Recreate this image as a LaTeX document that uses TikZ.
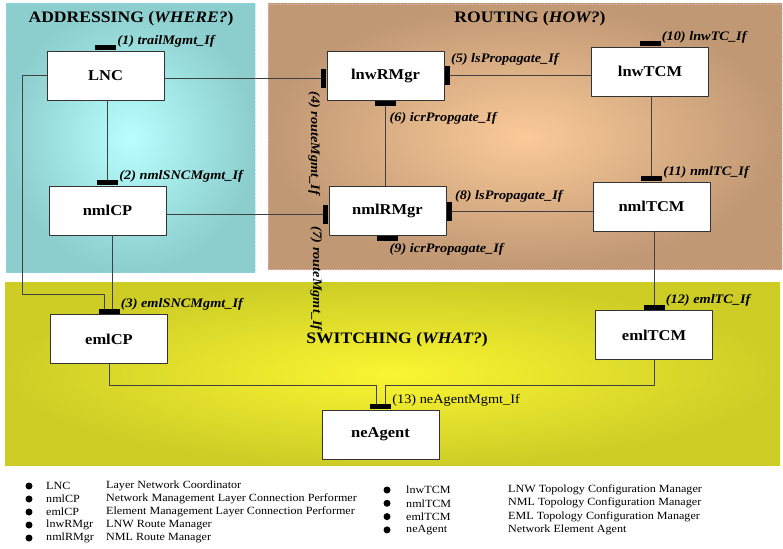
\documentclass[tikz,border=0pt]{standalone}
\usepackage{fontspec}
\setmainfont{Liberation Serif}[FakeStretch=1.1]
\usetikzlibrary{positioning}
\definecolor{addrin}{RGB}{185,255,255}
\definecolor{addrout}{RGB}{140,205,205}
\definecolor{routin}{RGB}{250,202,152}
\definecolor{routout}{RGB}{192,152,116}
\definecolor{swin}{RGB}{250,245,50}
\definecolor{swout}{RGB}{205,205,38}
\begin{document}
\begin{tikzpicture}[x=1pt,y=-1pt, line join=round, line cap=round,
    box/.style={draw=black!80, fill=white, line width=0.8pt, minimum width=117pt, minimum height=49pt, inner sep=0pt, font=\fontsize{15}{15}\selectfont\bfseries},
    porth/.style={fill=black, minimum width=21pt, minimum height=5pt, inner sep=0pt},
    portv/.style={fill=black, minimum width=5pt, minimum height=19pt, inner sep=0pt},
    iflabel/.style={font=\fontsize{13}{13}\selectfont\bfseries\itshape, inner sep=1pt},
    title/.style={font=\fontsize{16}{16}\selectfont\bfseries},
    wire/.style={draw=black!75, line width=0.8pt},
    legdot/.style={circle, fill=black, minimum size=7pt, inner sep=0pt},
    legtext/.style={font=\fontsize{11}{12}\selectfont, anchor=west, inner sep=0pt}]
    \useasboundingbox (0,0) rectangle (783,548);
    % layers
    \shade[inner color=addrin, outer color=addrout] (6,4) rectangle (255,272);
    \draw[cyan!45, dotted] (6,4) rectangle (255,272);
    \shade[inner color=routin, outer color=routout] (268,4) rectangle (782,269);
    \draw[magenta!25, dotted] (268,4) rectangle (782,269);
    \shade[inner color=swin, outer color=swout] (5,282) rectangle (780,465);
    \node[title] (taddr) at (131,19) {ADDRESSING (\textit{WHERE?})};
    \node[title] (trout) at (530,19) {ROUTING (\textit{HOW?})};
    \node[title] (tsw) at (397,340) {SWITCHING (\textit{WHAT?})};
    % components
    \node[box] (lnc) at (105.5,75.5) {LNC};
    \node[box] (nmlcp) at (107.5,210.5) {nmlCP};
    \node[box] (emlcp) at (109,339) {emlCP};
    \node[box] (lnwrmgr) at (385.5,75.5) {lnwRMgr};
    \node[box] (nmlrmgr) at (387.5,211) {nmlRMgr};
    \node[box] (lnwtcm) at (650,71.5) {lnwTCM};
    \node[box] (nmltcm) at (651.5,206.5) {nmlTCM};
    \node[box] (emltcm) at (654,335) {emlTCM};
    \node[box] (neagent) at (380.5,434.5) {neAgent};
    % interfaces
    \node[porth, anchor=south] (p1) at (lnc.north) {};
    \node[porth, anchor=south] (p2) at (nmlcp.north) {};
    \node[porth, anchor=south] (p3) at (emlcp.north) {};
    \node[portv, anchor=east] (p4) at ([yshift=-3pt]lnwrmgr.west) {};
    \node[portv, anchor=west] (p5) at (lnwrmgr.east) {};
    \node[porth, anchor=north] (p6) at (lnwrmgr.south) {};
    \node[portv, anchor=east] (p7) at ([yshift=-3pt]nmlrmgr.west) {};
    \node[portv, anchor=west] (p8) at (nmlrmgr.east) {};
    \node[porth, anchor=north] (p9) at (nmlrmgr.south) {};
    \node[porth, anchor=south] (p10) at (lnwtcm.north) {};
    \node[porth, anchor=south] (p11) at (nmltcm.north) {};
    \node[porth, anchor=south] (p12) at (emltcm.north) {};
    \node[porth, anchor=south] (p13) at (neagent.north) {};
    % connections
    \coordinate (bendA) at (22,294);
    \draw[wire] (p4.west) -- (p4.west -| lnc.east);
    \draw[wire] (p2.north) -- (p2.north |- lnc.south);
    \draw[wire] (lnc.west) -| (bendA) -| ([xshift=-5pt]p3.north);
    \draw[wire] ([xshift=3pt]p3.north) -- ([xshift=3pt]p3.north |- nmlcp.south);
    \draw[wire] (p7.west) -- (p7.west -| nmlcp.east);
    \draw[wire] (p5.east) -- (p5.east -| lnwtcm.west);
    \draw[wire] (p6.south) -- (p6.south |- nmlrmgr.north);
    \draw[wire] (p8.east) -- (p8.east -| nmltcm.west);
    \draw[wire] (p11.north) -- (p11.north |- lnwtcm.south);
    \draw[wire] (p12.north) -- (p12.north |- nmltcm.south);
    \draw[wire] (emlcp.south) -- ++(0,21) -| ([xshift=-4pt]p13.north);
    \draw[wire] (emltcm.south) -- ++(0,25) -| ([xshift=5pt]p13.north);
    % interface names
    \node[iflabel, anchor=base west] (l1) at ([yshift=1pt]p1.north east) {(1) trailMgmt\_If};
    \node[iflabel, anchor=base west] (l2) at ([yshift=1pt]p2.north east) {(2) nmlSNCMgmt\_If};
    \node[iflabel, anchor=base west] (l3) at ([yshift=1pt]p3.north east) {(3) emlSNCMgmt\_If};
    \node[iflabel, rotate=-90, anchor=west] (l4) at ([xshift=-7pt,yshift=-2pt]p4.south west) {(4) routeMgmt\_If};
    \node[iflabel, anchor=base west] (l5) at ([yshift=3pt]p5.north east) {(5) lsPropagate\_If};
    \node[iflabel, anchor=north west] (l6) at ([xshift=3pt,yshift=-5pt]p6.south) {(6) icrPropgate\_If};
    \node[iflabel, rotate=-90, anchor=west] (l7) at ([xshift=-7pt,yshift=-2pt]p7.south west) {(7) routeMgmt\_If};
    \node[iflabel, anchor=base west] (l8) at ([xshift=2pt,yshift=2pt]p8.north east) {(8) lsPropagate\_If};
    \node[iflabel, anchor=north west] (l9) at ([xshift=1pt,yshift=-1pt]p9.south) {(9) icrPropagate\_If};
    \node[iflabel, anchor=base west] (l10) at ([yshift=1pt]p10.north east) {(10) lnwTC\_If};
    \node[iflabel, anchor=base west] (l11) at ([yshift=1pt]p11.north east) {(11) nmlTC\_If};
    \node[iflabel, anchor=base west] (l12) at ([yshift=1pt]p12.north east) {(12) emlTC\_If};
    \node[font=\fontsize{13}{13}\selectfont, inner sep=1pt, anchor=base west] (l13) at ([yshift=1pt]p13.north east) {(13) neAgentMgmt\_If};
    % legend
    \foreach \n/\d [count=\i] in {LNC/Layer Network Coordinator, nmlCP/Network Management Layer Connection Performer, emlCP/Element Management Layer Connection Performer, lnwRMgr/LNW Route Manager, nmlRMgr/NML Route Manager}{
        \node[legdot] (ld\i) at (29,{473+13*\i}) {};
        \node[legtext] (ln\i) at (46,{473+13*\i}) {\n};
        \node[legtext] (lt\i) at (106,{473+13*\i}) {\d};
    }
    \foreach \n/\d [count=\i] in {lnwTCM/LNW Topology Configuration Manager, nmlTCM/NML Topology Configuration Manager, emlTCM/EML Topology Configuration Manager, neAgent/Network Element Agent}{
        \node[legdot] (rd\i) at (387,{476.7+13.3*\i}) {};
        \node[legtext] (rn\i) at (406,{476.7+13.3*\i}) {\n};
        \node[legtext] (rt\i) at (508,{476.7+13.3*\i}) {\d};
    }
\end{tikzpicture}
\end{document}
